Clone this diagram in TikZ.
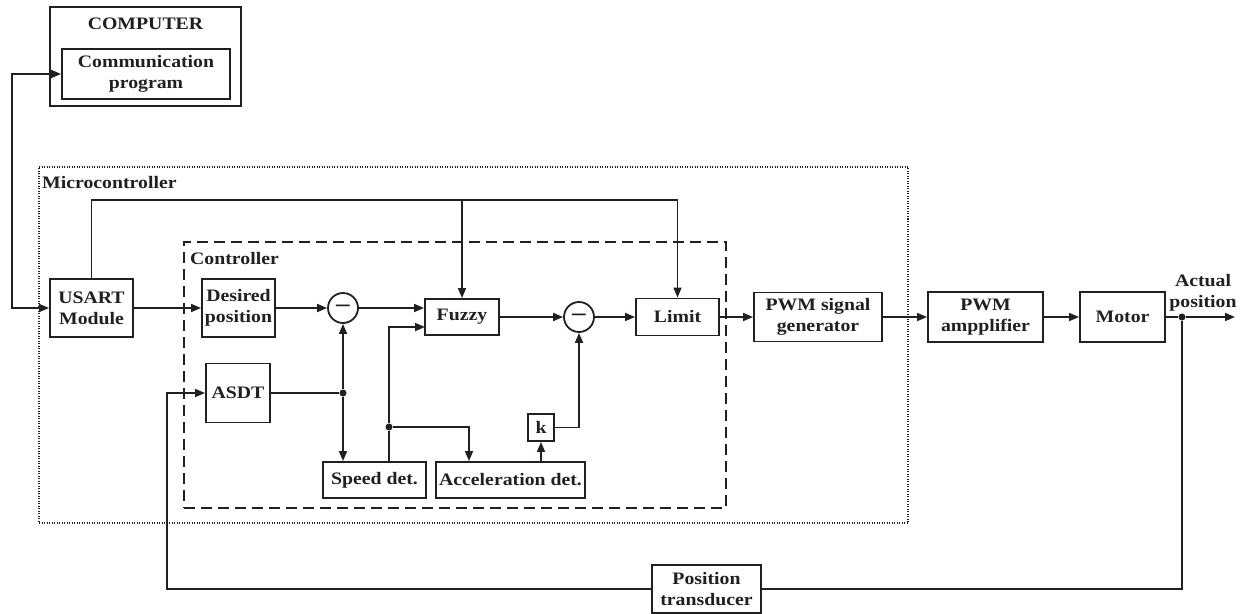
\documentclass[tikz,border=0pt]{standalone}
\usepackage{fontspec}
\setmainfont[FakeStretch=1.13]{Liberation Serif}
\usetikzlibrary{arrows.meta,calc}
\definecolor{ink}{HTML}{231F20}
\begin{document}
\begin{tikzpicture}[x=1pt,y=-1pt,
  font=\fontsize{17.5}{21}\selectfont\bfseries,
  >={Triangle[length=10pt,width=8pt]},
  box/.style={draw=ink,line width=1.9pt,inner sep=0pt,align=center,text=ink},
  sumc/.style={draw=ink,circle,line width=1.8pt,minimum size=30pt,inner sep=0pt,text=ink,font=\fontsize{24}{24}\selectfont\bfseries},
  ln/.style={draw=ink,line width=1.7pt},
  jdot/.style={circle,fill=ink,inner sep=0pt,minimum size=7pt},
  lbl/.style={inner sep=0pt,text=ink}]
\fill[white] (0,0) rectangle (1246,613);
\useasboundingbox (0,0) rectangle (1246,613);

% frames
\node[draw=ink,line width=1.3pt,dash pattern=on 1pt off 1.5pt,minimum width=869pt,minimum height=356pt,inner sep=0pt] (micro) at (473.5,345) {};
\node[draw=ink,line width=1.7pt,dash pattern=on 11pt off 6pt,minimum width=542pt,minimum height=266pt,inner sep=0pt] (ctrl) at (455,375) {};
\node[lbl,anchor=west] (microtxt) at (42,183) {Microcontroller};
\node[lbl,anchor=west] (ctrltxt) at (190,259) {Controller};

% computer
\node[box,minimum width=191pt,minimum height=99pt] (comp) at (145.5,56.5) {};
\node[lbl] (comptxt) at (145.5,24) {COMPUTER};
\node[box,minimum width=168pt,minimum height=50pt] (comm) at (146,74) {Communication\\program};

% blocks
\node[box,minimum width=83pt,minimum height=58pt] (usart) at (91.5,308) {USART\\Module};
\node[box,minimum width=73pt,minimum height=58pt] (desired) at (238.5,308) {Desired\\position};
\node[box,minimum width=64pt,minimum height=59pt] (asdt) at (238,393) {ASDT};
\node[sumc] (sum1) at (343,308) {--};
\node[box,minimum width=74pt,minimum height=36pt] (fuzzy) at (462,317) {Fuzzy};
\node[sumc] (sum2) at (579,317) {--};
\node[box,minimum width=83pt,minimum height=37pt] (limit) at (677.5,317) {Limit};
\node[box,minimum width=128pt,minimum height=49pt] (pwmgen) at (818,317) {PWM signal\\generator};
\node[box,minimum width=115pt,minimum height=50pt] (pwmamp) at (985.5,317) {PWM\\ampplifier};
\node[box,minimum width=85pt,minimum height=50pt] (motor) at (1122.5,317) {Motor};
\node[box,minimum width=103pt,minimum height=36pt] (speed) at (374.5,480) {Speed det.};
\node[box,minimum width=149pt,minimum height=36pt] (accel) at (510.5,480) {Acceleration det.};
\node[box,minimum width=26pt,minimum height=27pt] (k) at (541,427.5) {k};
\node[box,minimum width=109pt,minimum height=48pt,fill=white] (trans) at (706.5,589) {Position\\transducer};
\node[lbl,align=center] (apos) at (1203,293) {Actual\\position};

% junctions and free points
\node[jdot] (j1) at (343,393) {};
\node[jdot] (j2) at (389,427) {};
\node[jdot] (j3) at (1182,317) {};
\coordinate (lx) at (12,0);
\coordinate (ty) at (0,200);
\coordinate (fz2) at (425,327);
\coordinate (acin) at (469,0);
\coordinate (out) at (1235,317);
\coordinate (by) at (0,589);
\coordinate (fbx) at (167,0);

% connectors
\draw[ln,<->] (comm.west) -- (comm.west -| lx) -- (usart.west -| lx) -- (usart.west);
\draw[ln,->] (usart.north) -- (usart.north |- ty) -- (limit.north |- ty) -- (limit.north);
\draw[ln,->] (fuzzy.north |- ty) -- (fuzzy.north);
\draw[ln,->] (usart.east) -- (desired.west);
\draw[ln,->] (desired.east) -- (sum1.west);
\draw[ln,->] (sum1.east) -- (sum1.east -| fuzzy.west);
\draw[ln,->] (fuzzy.east) -- (sum2.west);
\draw[ln,->] (sum2.east) -- (limit.west);
\draw[ln,->] (limit.east) -- (pwmgen.west);
\draw[ln,->] (pwmgen.east) -- (pwmamp.west);
\draw[ln,->] (pwmamp.east) -- (motor.west);
\draw[ln] (asdt.east) -- (j1);
\draw[ln,->] (j1) -- (sum1.south);
\draw[ln,->] (j1) -- (j1 |- speed.north);
\draw[ln,->] (j2 |- speed.north) -- (j2) -- (j2 |- fz2) -- (fz2);
\draw[ln,->] (j2) -| (acin |- accel.north);
\draw[ln,->] (k.south |- accel.north) -- (k.south);
\draw[ln,->] (k.east) -| (sum2.south);
\draw[ln] (motor.east) -- (j3);
\draw[ln,->] (j3) -- (out);
\draw[ln] (j3) -- (j3 |- by) -- (trans.east);
\draw[ln,->] (trans.west) -- (trans.west -| fbx) -- (asdt.west -| fbx) -- (asdt.west);
\end{tikzpicture}
\end{document}
